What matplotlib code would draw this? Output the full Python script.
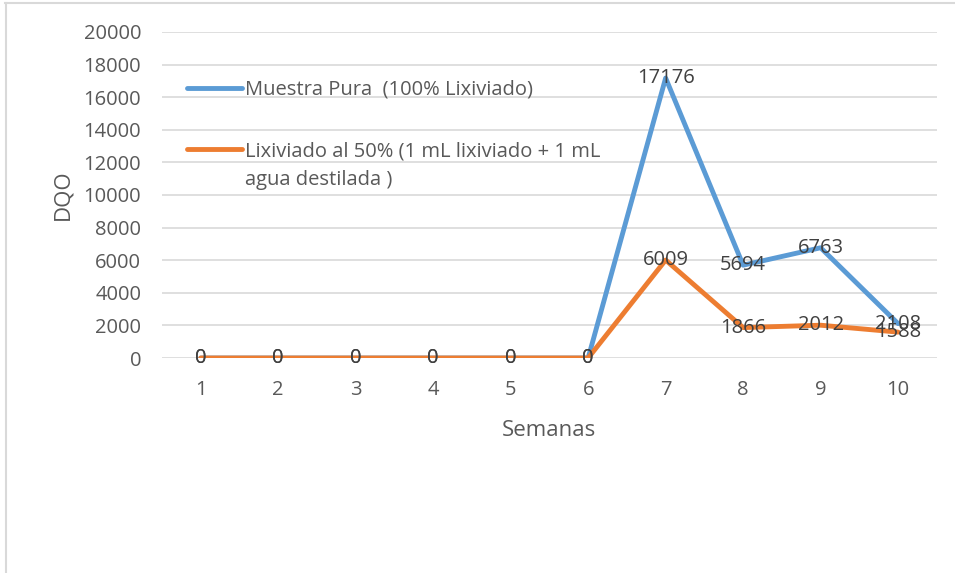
import matplotlib.pyplot as plt
from matplotlib.lines import Line2D

# semanas y valores de DQO
semanas = [1, 2, 3, 4, 5, 6, 7, 8, 9, 10]
muestra_pura = [0, 0, 0, 0, 0, 0, 17176, 5694, 6763, 2108]
lixiviado_50 = [0, 0, 0, 0, 0, 0, 6009, 1866, 2012, 1588]
y_ticks = [0, 2000, 4000, 6000, 8000, 10000, 12000, 14000, 16000, 18000, 20000]
label_pura = "Muestra Pura  (100% Lixiviado)"
label_50 = "Lixiviado al 50% (1 mL lixiviado + 1 mL"
label_50_cont = "agua destilada )"

c_blue = "#5B9BD5"
c_orange = "#ED7D31"
c_text = "#595959"
fs = 14.5

plt.rcParams['font.family'] = ['Open Sans', 'DejaVu Sans']

fig = plt.figure(figsize=(9.55, 5.73), dpi=100)
ax = fig.add_axes([0.1696, 0.3752, 0.8114, 0.569])

ax.plot(semanas, muestra_pura, color=c_blue, lw=3.5, solid_capstyle='round', label=label_pura, zorder=3)
ax.plot(semanas, lixiviado_50, color=c_orange, lw=3.5, solid_capstyle='round', label=label_50, zorder=4)

# etiquetas de datos centradas sobre cada punto
for x, y in zip(semanas, muestra_pura):
    ax.text(x, y, str(y), ha='center', va='center', fontsize=fs, color='#404040', zorder=5)
for x, y in zip(semanas, lixiviado_50):
    ax.text(x, y, str(y), ha='center', va='center', fontsize=fs, color='#404040', zorder=5)

ax.set_xlim(0.5, 10.5)
ax.set_ylim(0, 20000)
ax.set_yticks(y_ticks)
ax.set_xticks(semanas)
ax.grid(axis='y', color='#D9D9D9', lw=1.2)
ax.set_axisbelow(True)
for s in ax.spines.values():
    s.set_visible(False)
ax.tick_params(length=0, labelsize=fs, labelcolor=c_text)
ax.tick_params(axis='x', pad=16)
ax.tick_params(axis='y', pad=15)

ax.set_xlabel("Semanas", fontsize=16, color=c_text, labelpad=14)
ax.set_ylabel("DQO", fontsize=16, color=c_text, labelpad=7)

leg = ax.legend(loc='upper left', bbox_to_anchor=(0.032, 0.853), frameon=False,
                fontsize=fs, handlelength=2.75, handletextpad=0.12,
                labelspacing=2.05, borderaxespad=0, borderpad=0)
for t in leg.get_texts():
    t.set_color(c_text)
# segunda línea del texto de la leyenda, debajo de la primera
ax.annotate(label_50_cont, xy=(0, 0), xycoords=leg.get_texts()[1],
            xytext=(0, -9), textcoords='offset pixels', ha='left', va='top',
            fontsize=fs, color=c_text, zorder=6)

# marco del gráfico
fig.add_artist(Line2D([0.005, 1.0], [0.995, 0.995], color='#D9D9D9', lw=1.5))
fig.add_artist(Line2D([0.006, 0.006], [0.0, 0.995], color='#D9D9D9', lw=1.5))

fig.savefig("out.png", dpi=100)
